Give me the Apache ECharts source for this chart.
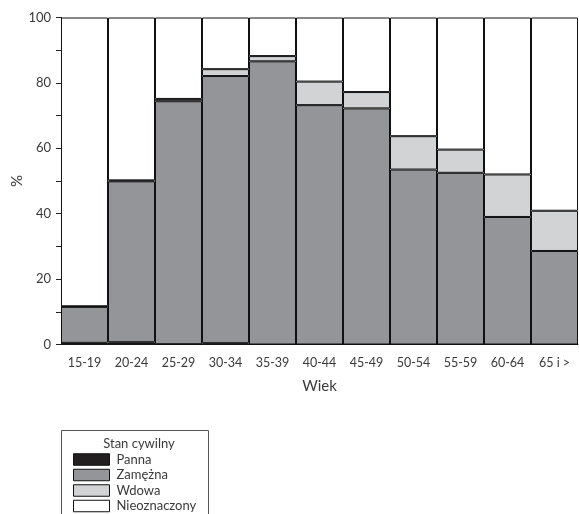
<!DOCTYPE html>
<html><head><meta charset="utf-8">
<script src="https://cdn.jsdelivr.net/npm/echarts@6/dist/echarts.min.js"></script>
<style>html,body{margin:0;padding:0;background:#fff}#c{width:579px;height:514px}</style>
</head><body><div id="c"></div>
<script>
const categories = ['15-19','20-24','25-29','30-34','35-39','40-44','45-49','50-54','55-59','60-64','65 i >'];
const panna = [0.5, 0.7, 0.1, 0.4, 0, 0, 0, 0, 0, 0, 0];
const zamezna = [11.0, 49.2, 74.3, 81.7, 86.6, 73.2, 72.2, 53.5, 52.5, 39.0, 28.6];
const wdowa = [0.2, 0.3, 0.7, 2.1, 1.6, 7.2, 5.0, 10.2, 7.1, 13.0, 12.3];
const nieoznaczony = [88.3, 49.8, 24.9, 15.8, 11.8, 19.6, 22.8, 36.3, 40.4, 48.0, 59.1];
const yTicks = [0, 20, 40, 60, 80, 100];

const font = 'Lato, "DejaVu Sans", sans-serif';
const txt = '#3a3a3a';
function s(name, data, color) {
  return {name, type:'bar', stack:'all', data, barWidth:'100%',
    itemStyle:{color, borderColor:'#111', borderWidth:1}};
}
const chart = echarts.init(document.getElementById('c'));
chart.setOption({
  animation:false,
  textStyle:{fontFamily:font},
  grid:{left:61, right:1, top:17.5, bottom:169.5, containLabel:false, outerBoundsMode:'none'},
  title:{text:'Stan cywilny', left:139, top:437, textAlign:'center', padding:0,
    textStyle:{fontFamily:font, fontSize:13, fontWeight:'normal', color:txt}},
  legend:{orient:'vertical', left:73, top:453, itemWidth:36, itemHeight:11.5, itemGap:2.5,
    padding:0, height:80,
    icon:'rect', selectedMode:false,
    itemStyle:{borderColor:'#111', borderWidth:1},
    textStyle:{fontFamily:font, fontSize:13, color:txt, padding:[0,0,0,2], lineHeight:12}},
  graphic:[{type:'rect', shape:{x:61.5, y:430.5, width:147, height:100},
    style:{fill:'none', stroke:'#555', lineWidth:1}}],
  xAxis:{type:'category', data:categories,
    name:'Wiek', nameLocation:'middle', nameGap:34,
    nameTextStyle:{fontFamily:font, fontSize:15, color:txt},
    axisLine:{lineStyle:{color:'#222'}},
    axisTick:{alignWithLabel:true, length:5, lineStyle:{color:'#222'}},
    axisLabel:{fontFamily:font, fontSize:12.5, color:txt, margin:12}},
  yAxis:{type:'value', min:yTicks[0], max:yTicks[yTicks.length-1], interval:20,
    name:'%', nameLocation:'middle', nameGap:36, nameRotate:90, nameMoveOverlap:false,
    nameTextStyle:{fontFamily:font, fontSize:15, color:txt},
    axisLine:{show:true, lineStyle:{color:'#222'}},
    axisTick:{show:true, length:5, lineStyle:{color:'#222'}},
    minorTick:{show:true, splitNumber:2, length:5, lineStyle:{color:'#222'}},
    splitLine:{show:false},
    axisLabel:{fontFamily:font, fontSize:13, color:txt, margin:10}},
  series:[
    s('Panna', panna, '#231f20'),
    s('Zamężna', zamezna, '#939598'),
    s('Wdowa', wdowa, '#d1d3d4'),
    s('Nieoznaczony', nieoznaczony, '#ffffff')
  ]
});
</script></body></html>
